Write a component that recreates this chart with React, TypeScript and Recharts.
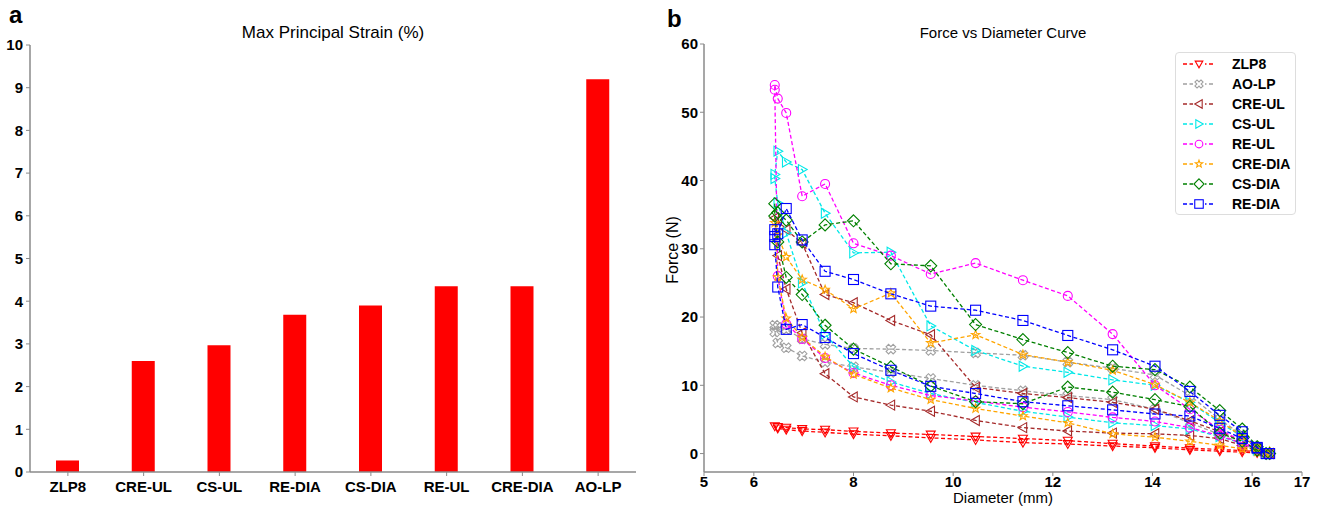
import React from "react";
import { BarChart, Bar, XAxis, YAxis, ScatterChart, Scatter } from "recharts";

// panel a
const strainCategories = ["ZLP8", "CRE-UL", "CS-UL", "RE-DIA", "CS-DIA", "RE-UL", "CRE-DIA", "AO-LP"];
const strainValues = [0.27, 2.6, 2.97, 3.68, 3.9, 4.35, 4.35, 9.2];
const strainTicks = [0, 1, 2, 3, 4, 5, 6, 7, 8, 9, 10];

// panel b  [diameter mm, force N], loading then unloading
const diameterTicks = [5, 6, 8, 10, 12, 14, 16, 17];
const forceTicks = [0, 10, 20, 30, 40, 50, 60];

const zlp8: number[][] = [
  [16.35, 0], [16.1, 0.3], [15.8, 0.45], [15.35, 0.6], [14.75, 0.8], [14.05, 1.1], [13.2, 1.45], [12.3, 1.9], [11.4, 2.2],
  [10.45, 2.5], [9.55, 2.8], [8.75, 3.0], [8.0, 3.25], [7.43, 3.5], [6.97, 3.6], [6.65, 3.8], [6.48, 3.9], [6.42, 4.0],
  [6.48, 3.7], [6.65, 3.5], [6.97, 3.3], [7.43, 3.1], [8.0, 2.85], [8.75, 2.6], [9.55, 2.3], [10.45, 2.0], [11.4, 1.6],
  [12.3, 1.4], [13.2, 1.1], [14.05, 0.85], [14.75, 0.55], [15.35, 0.35], [15.8, 0.2], [16.1, 0.1], [16.28, 0],
];
const aoLp: number[][] = [
  [16.35, 0], [16.1, 0.8], [15.8, 2.7], [15.35, 5.0], [14.75, 8.5], [14.05, 11.5], [13.2, 12.5], [12.3, 13.4], [11.4, 14.4],
  [10.45, 14.75], [9.55, 15.1], [8.75, 15.3], [8.0, 15.4], [7.43, 16.0], [6.97, 16.8], [6.65, 18.2], [6.48, 18.5], [6.42, 18.8],
  [6.42, 17.8], [6.48, 16.2], [6.65, 15.5], [6.97, 14.3], [7.43, 13.4], [8.0, 12.7], [8.75, 11.9], [9.55, 11.0], [10.45, 10.0],
  [11.4, 9.2], [12.3, 8.5], [13.2, 7.9], [14.05, 6.5], [14.75, 4.5], [15.35, 2.8], [15.8, 1.5], [16.1, 0.4], [16.28, 0],
];
const creUl: number[][] = [
  [16.35, 0], [16.1, 0.6], [15.8, 1.8], [15.35, 3.2], [14.75, 4.8], [14.05, 6.5], [13.2, 7.5], [12.3, 8.2], [11.4, 8.8],
  [10.45, 9.7], [9.55, 17.4], [8.75, 19.5], [8.0, 22.1], [7.43, 23.3], [6.97, 30.8], [6.65, 32.8], [6.48, 34.2], [6.42, 34.5],
  [6.48, 29.0], [6.65, 24.1], [6.97, 17.7], [7.43, 11.7], [8.0, 8.3], [8.75, 7.1], [9.55, 6.2], [10.45, 4.85], [11.4, 3.8],
  [12.3, 3.3], [13.2, 3.0], [14.05, 2.9], [14.75, 2.65], [15.35, 2.2], [15.8, 1.2], [16.1, 0.4], [16.28, 0],
];
const csUl: number[][] = [
  [16.35, 0], [16.1, 0.8], [15.8, 2.5], [15.35, 4.5], [14.75, 7.5], [14.05, 10.0], [13.2, 10.8], [12.3, 11.9], [11.4, 12.8],
  [10.45, 15.1], [9.55, 18.7], [8.75, 29.5], [8.0, 29.4], [7.43, 35.2], [6.97, 41.6], [6.65, 42.7], [6.48, 44.3], [6.42, 40.9],
  [6.42, 40.3], [6.48, 36.7], [6.65, 32.3], [6.97, 25.0], [7.43, 17.5], [8.0, 12.7], [8.75, 10.5], [9.55, 8.8], [10.45, 7.5],
  [11.4, 6.2], [12.3, 5.35], [13.2, 4.5], [14.05, 4.1], [14.75, 3.6], [15.35, 2.5], [15.8, 1.5], [16.1, 0.5], [16.28, 0],
];
const reUl: number[][] = [
  [16.35, 0], [16.1, 0.6], [15.8, 1.8], [15.35, 3.5], [14.75, 6.5], [14.05, 10.0], [13.2, 17.5], [12.3, 23.1], [11.4, 25.4],
  [10.45, 27.9], [9.55, 26.3], [8.75, 29.0], [8.0, 30.8], [7.43, 39.5], [6.97, 37.7], [6.65, 49.9], [6.48, 52.0], [6.42, 54.0],
  [6.42, 53.3], [6.48, 26.0], [6.65, 19.0], [6.97, 16.8], [7.43, 14.0], [8.0, 11.8], [8.75, 10.0], [9.55, 8.5], [10.45, 7.7],
  [11.4, 6.8], [12.3, 6.1], [13.2, 5.3], [14.05, 4.7], [14.75, 3.8], [15.35, 2.6], [15.8, 1.5], [16.1, 0.6], [16.28, 0],
];
const creDia: number[][] = [
  [16.35, 0.3], [16.1, 1.0], [15.8, 2.5], [15.35, 4.8], [14.75, 7.5], [14.05, 10.1], [13.2, 12.2], [12.3, 13.4], [11.4, 14.5],
  [10.45, 17.4], [9.55, 16.2], [8.75, 23.5], [8.0, 21.2], [7.43, 24.0], [6.97, 25.5], [6.65, 28.8], [6.48, 32.0], [6.42, 33.8],
  [6.48, 25.9], [6.65, 19.8], [6.97, 17.0], [7.43, 14.2], [8.0, 11.6], [8.75, 9.6], [9.55, 7.9], [10.45, 6.6], [11.4, 5.5],
  [12.3, 4.5], [13.2, 2.9], [14.05, 2.4], [14.75, 1.8], [15.35, 1.2], [15.8, 0.7], [16.1, 0.3], [16.28, 0],
];
const csDia: number[][] = [
  [16.35, 0], [16.1, 1.0], [15.8, 3.6], [15.35, 6.3], [14.75, 9.75], [14.05, 12.3], [13.2, 12.8], [12.3, 14.8], [11.4, 16.7],
  [10.45, 18.9], [9.55, 27.5], [8.75, 27.8], [8.0, 34.1], [7.43, 33.5], [6.97, 31.0], [6.65, 34.2], [6.48, 35.3], [6.42, 36.6],
  [6.42, 34.8], [6.48, 31.0], [6.65, 25.8], [6.97, 23.3], [7.43, 18.8], [8.0, 15.3], [8.75, 12.7], [9.55, 9.9], [10.45, 7.6],
  [11.4, 7.3], [12.3, 9.75], [13.2, 9.0], [14.05, 7.9], [14.75, 6.9], [15.35, 3.0], [15.8, 1.8], [16.1, 0.5], [16.28, 0],
];
const reDia: number[][] = [
  [16.35, 0], [16.1, 0.8], [15.8, 3.2], [15.35, 5.6], [14.75, 9.1], [14.05, 12.8], [13.2, 15.2], [12.3, 17.3], [11.4, 19.5],
  [10.45, 21.0], [9.55, 21.6], [8.75, 23.4], [8.0, 25.5], [7.43, 26.7], [6.97, 31.3], [6.65, 35.9], [6.48, 32.2], [6.42, 32.8],
  [6.42, 31.8], [6.42, 30.6], [6.48, 24.4], [6.65, 18.2], [6.97, 18.9], [7.43, 17.0], [8.0, 14.65], [8.75, 12.2], [9.55, 9.85],
  [10.45, 8.8], [11.4, 7.6], [12.3, 7.0], [13.2, 6.4], [14.05, 5.8], [14.75, 5.5], [15.35, 3.7], [15.8, 2.2], [16.1, 0.9], [16.28, 0],
];

const series = [
  { name: "ZLP8", pts: zlp8, color: "#ff0000", marker: "tridown", size: 9 },
  { name: "AO-LP", pts: aoLp, color: "#a0a0a0", marker: "xfill", size: 10 },
  { name: "CRE-UL", pts: creUl, color: "#a52a2a", marker: "trileft", size: 10 },
  { name: "CS-UL", pts: csUl, color: "#00e8e8", marker: "triright", size: 10 },
  { name: "RE-UL", pts: reUl, color: "#ff00ff", marker: "circle", size: 9 },
  { name: "CRE-DIA", pts: creDia, color: "#ffa500", marker: "star", size: 9 },
  { name: "CS-DIA", pts: csDia, color: "#008000", marker: "diamond", size: 12 },
  { name: "RE-DIA", pts: reDia, color: "#0000ff", marker: "square", size: 10 },
];

const FONT = "'Liberation Sans', Arial, sans-serif";
const AXIS = "#8a8a8a";

function Marker({ kind, color, size, cx, cy }: any) {
  const s = size / 2;
  const st = { fill: "none", stroke: color, strokeWidth: 1.1 };
  if (kind === "tridown")
    return <polygon points={`${cx - s},${cy - s * 0.75} ${cx + s},${cy - s * 0.75} ${cx},${cy + s}`} {...st} />;
  if (kind === "trileft")
    return <polygon points={`${cx - s},${cy} ${cx + s * 0.75},${cy - s} ${cx + s * 0.75},${cy + s}`} {...st} />;
  if (kind === "triright")
    return <polygon points={`${cx + s},${cy} ${cx - s * 0.75},${cy - s} ${cx - s * 0.75},${cy + s}`} {...st} />;
  if (kind === "circle") return <circle cx={cx} cy={cy} r={s} {...st} />;
  if (kind === "square") return <rect x={cx - s} y={cy - s} width={size} height={size} {...st} />;
  if (kind === "diamond")
    return <polygon points={`${cx},${cy - s} ${cx + s},${cy} ${cx},${cy + s} ${cx - s},${cy}`} {...st} />;
  if (kind === "star") {
    const p: string[] = [];
    for (let i = 0; i < 10; i++) {
      const r = i % 2 === 0 ? s : s * 0.42;
      const a = -Math.PI / 2 + (i * Math.PI) / 5;
      p.push(`${cx + r * Math.cos(a)},${cy + r * Math.sin(a)}`);
    }
    return <polygon points={p.join(" ")} {...st} />;
  }
  // filled-X outline
  const w = s * 0.35;
  const base = [[-w, -s], [w, -s], [w, -w], [s, -w], [s, w], [w, w], [w, s], [-w, s], [-w, w], [-s, w], [-s, -w], [-w, -w]];
  const c = Math.SQRT1_2;
  const pts = base.map(([x, y]) => `${cx + (x - y) * c},${cy + (x + y) * c}`).join(" ");
  return <polygon points={pts} {...st} />;
}

const shapeFor = (kind: string, color: string, size: number) => (props: any) => {
  if (props.cx == null || props.cy == null) return <g />;
  return <Marker kind={kind} color={color} size={size} cx={props.cx} cy={props.cy} />;
};

const tickStyle = { fontSize: 15, fontWeight: 700, fill: "#000", fontFamily: FONT };

export default function App() {
  const barData = strainCategories.map((c, i) => ({ name: c, value: strainValues[i] }));

  return (
    <div style={{ position: "relative", width: 1320, height: 507, background: "#fff", fontFamily: FONT }}>
      <style>{`body{margin:0}`}</style>

      {/* panel a */}
      <div style={{ position: "absolute", left: 0, top: 0 }}>
        <BarChart width={660} height={507} data={barData} margin={{ top: 45, right: 24, bottom: 5, left: 0 }}>
          <XAxis dataKey="name" height={30} tick={tickStyle} tickSize={4} tickMargin={5}
            stroke={AXIS} axisLine={{ stroke: AXIS, strokeWidth: 1.5 }} interval={0} />
          <XAxis xAxisId="top" orientation="top" dataKey="name" height={0} tick={false} tickLine={false}
            axisLine={{ stroke: AXIS, strokeWidth: 1.5 }} />
          <YAxis domain={[0, 10]} ticks={strainTicks} width={30} tick={tickStyle} tickSize={4} tickMargin={3}
            stroke={AXIS} axisLine={{ stroke: AXIS, strokeWidth: 1.5 }} interval={0} />
          <YAxis yAxisId="right" orientation="right" domain={[0, 10]} width={0} tick={false} tickLine={false}
            axisLine={{ stroke: AXIS, strokeWidth: 1.5 }} />
          <Bar dataKey="value" fill="#ff0000" barSize={23} isAnimationActive={false} />
        </BarChart>
      </div>
      <div style={{ position: "absolute", left: 9, top: 1, fontSize: 24, fontWeight: 700 }}>a</div>
      <div style={{ position: "absolute", left: 30, width: 606, top: 23, textAlign: "center", fontSize: 17 }}>
        Max Principal Strain (%)
      </div>

      {/* panel b */}
      <div style={{ position: "absolute", left: 660, top: 0 }}>
        <ScatterChart width={660} height={507} margin={{ top: 44, right: 18, bottom: 0, left: 0 }}>
          <XAxis type="number" dataKey="d" domain={[5, 17]} ticks={diameterTicks} height={35} tick={tickStyle}
            tickSize={4} tickMargin={0} stroke={AXIS} axisLine={{ stroke: AXIS, strokeWidth: 1.5 }} interval={0}
            allowDataOverflow />
          <XAxis xAxisId="top" orientation="top" type="number" domain={[5, 17]} height={0} tick={false}
            tickLine={false} axisLine={{ stroke: AXIS, strokeWidth: 1.5 }} />
          <YAxis type="number" dataKey="f" domain={[-2.7, 60]} ticks={forceTicks} width={44} tick={tickStyle}
            tickSize={4} tickMargin={2} stroke={AXIS} axisLine={{ stroke: AXIS, strokeWidth: 1.5 }} interval={0}
            allowDataOverflow />
          <YAxis yAxisId="right" orientation="right" type="number" domain={[-2.7, 60]} width={0} tick={false}
            tickLine={false} axisLine={{ stroke: AXIS, strokeWidth: 1.5 }} />
          {series.map((s) => (
            <Scatter
              key={s.name}
              name={s.name}
              data={s.pts.map(([d, f]) => ({ d, f }))}
              fill={s.color}
              line={{ stroke: s.color, strokeWidth: 1.3, strokeDasharray: "4 2.5" }}
              lineType="joint"
              shape={shapeFor(s.marker, s.color, s.size)}
              isAnimationActive={false}
            />
          ))}
        </ScatterChart>

        {/* legend */}
        <div style={{
          position: "absolute", left: 515, top: 52, width: 121, height: 163, boxSizing: "border-box",
          border: "1px solid #dddddd", borderRadius: 4, background: "rgba(255,255,255,0.85)",
        }}>
          {series.map((s, i) => (
            <div key={s.name} style={{ position: "absolute", left: 0, top: 1 + i * 20, height: 20, width: 121 }}>
              <svg width={36} height={20} style={{ position: "absolute", left: 6, top: 0 }}>
                <line x1={1} y1={10} x2={33} y2={10} stroke={s.color} strokeWidth={1.3} strokeDasharray="4 2.5" />
                <rect x={11} y={4} width={12} height={12} fill="#fff" />
                <Marker kind={s.marker} color={s.color} size={s.size * 0.85} cx={17} cy={10} />
              </svg>
              <span style={{ position: "absolute", left: 56, top: 2, fontSize: 14, fontWeight: 700, lineHeight: "16px" }}>
                {s.name}
              </span>
            </div>
          ))}
        </div>
      </div>
      <div style={{ position: "absolute", left: 667, top: 5, fontSize: 24, fontWeight: 700 }}>b</div>
      <div style={{ position: "absolute", left: 704, width: 598, top: 24, textAlign: "center", fontSize: 15 }}>
        Force vs Diameter Curve
      </div>
      <div style={{ position: "absolute", left: 704, width: 598, top: 489, textAlign: "center", fontSize: 15, lineHeight: "17px" }}>
        Diameter (mm)
      </div>
      <div style={{
        position: "absolute", left: 673, top: 250, fontSize: 16, whiteSpace: "nowrap",
        transform: "translate(-50%, -50%) rotate(-90deg)",
      }}>
        Force (N)
      </div>
    </div>
  );
}
